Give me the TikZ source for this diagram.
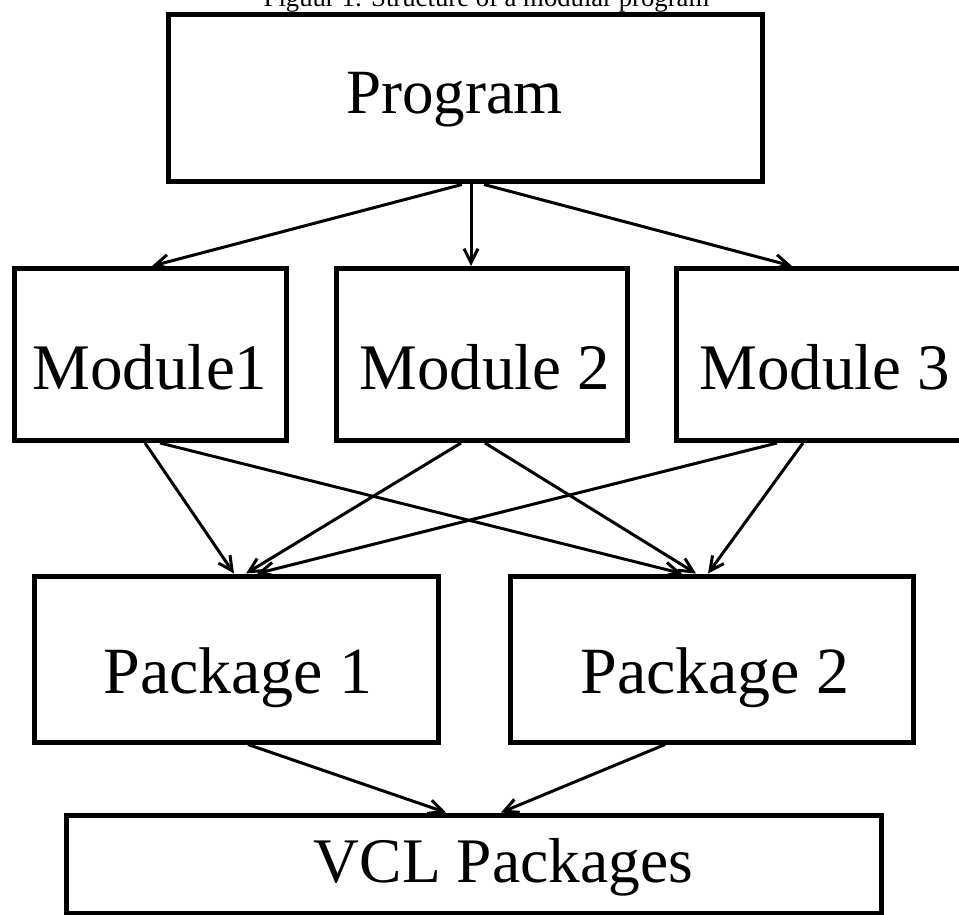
\documentclass[tikz,border=0pt]{standalone}
\usepackage{fontspec}
\setmainfont{Liberation Serif}
\usetikzlibrary{arrows.meta}
\begin{document}
\begin{tikzpicture}[x=1pt,y=-1pt,
  box/.style={draw, line width=5pt, inner sep=0pt},
  lbl/.style={anchor=base, inner sep=0pt},
  conn/.style={line width=3pt, -{Straight Barb[length=14pt,width=14pt,line width=3pt]}}]
\useasboundingbox (0,0) rectangle (959,915);
\fill[white] (0,0) rectangle (959,915);
\clip (0,0) rectangle (959,915);
% title
\node[lbl, font=\fontsize{26.7}{30}\selectfont] (title) at (486.5,7) {Figuur 1: Structure of a modular program};
% boxes
\node[box, minimum width=594pt, minimum height=167.5pt] (prog) at (465,98.25) {};
\node[box, minimum width=272pt, minimum height=172pt] (m1) at (150,354.5) {};
\node[box, minimum width=291pt, minimum height=172pt] (m2) at (481.5,354.5) {};
\node[box, minimum width=292pt, minimum height=172pt] (m3) at (822,354.5) {};
\node[box, minimum width=404pt, minimum height=166pt] (p1) at (236,659) {};
\node[box, minimum width=403.5pt, minimum height=166pt] (p2) at (711.75,659) {};
\node[box, minimum width=815pt, minimum height=98pt] (vcl) at (473.5,864) {};
% labels
\node[lbl, font=\fontsize{63}{63}\selectfont] (progt) at (454.5,114) {Program};
\node[lbl, font=\fontsize{65}{65}\selectfont] (m1t) at (150,389) {Module1};
\node[lbl, font=\fontsize{65}{65}\selectfont] (m2t) at (485,389) {Module 2};
\node[lbl, font=\fontsize{65}{65}\selectfont] (m3t) at (825,389) {Module 3};
\node[lbl, font=\fontsize{66}{66}\selectfont] (p1t) at (238,693) {Package 1};
\node[lbl, font=\fontsize{66}{66}\selectfont] (p2t) at (715,693) {Package 2};
\node[lbl, font=\fontsize{63.5}{63.5}\selectfont] (vclt) at (503.5,882) {VCL Packages};
% connectors
\draw[conn] ([xshift=-3pt]prog.south) -- ([xshift=2pt]m1.north);
\draw[conn] ([xshift=6pt]prog.south) -- ([xshift=-10.5pt]m2.north);
\draw[conn] ([xshift=19pt]prog.south) -- ([xshift=-30pt]m3.north);
\draw[conn] ([xshift=-5pt]m1.south) -- ([xshift=-2pt]p1.north);
\draw[conn] ([xshift=10pt]m1.south) -- ([xshift=-29.75pt]p2.north);
\draw[conn] ([xshift=-20.5pt]m2.south) -- ([xshift=10pt]p1.north);
\draw[conn] ([xshift=3.5pt]m2.south) -- ([xshift=-15.75pt]p2.north);
\draw[conn] ([xshift=-45pt]m3.south) -- ([xshift=21pt]p1.north);
\draw[conn] ([xshift=-19pt]m3.south) -- ([xshift=-3.75pt]p2.north);
\draw[conn] ([xshift=12pt]p1.south) -- ([xshift=-27.5pt]vcl.north);
\draw[conn] ([xshift=-46.75pt]p2.south) -- ([xshift=27.5pt]vcl.north);
\end{tikzpicture}
\end{document}
